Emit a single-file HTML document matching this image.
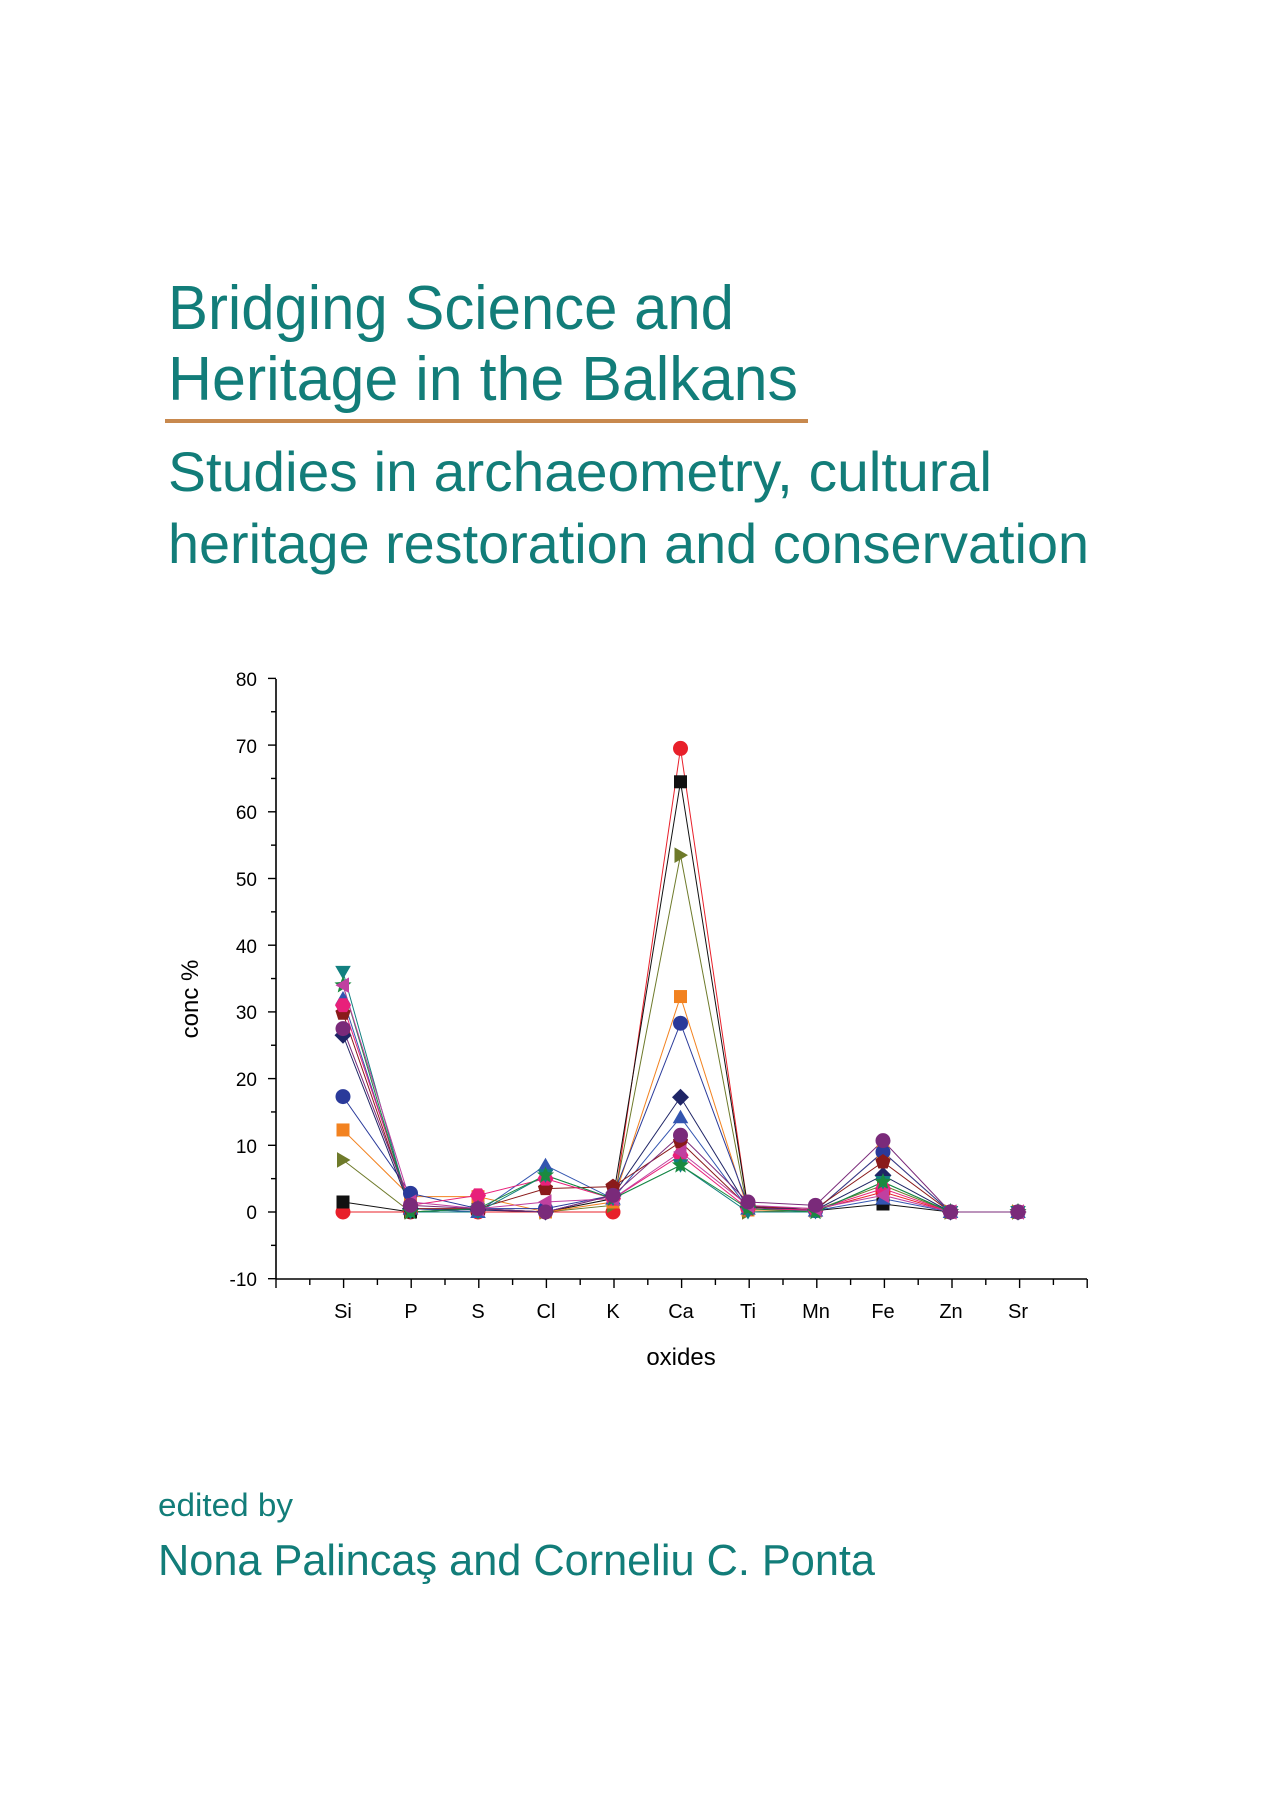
<!DOCTYPE html>
<html><head><meta charset="utf-8"><style>
html,body{margin:0;padding:0;background:#fff}
svg{display:block}
</style></head><body>
<svg id="s" width="1270" height="1800" viewBox="0 0 1270 1800" xmlns="http://www.w3.org/2000/svg" font-family="Liberation Sans, sans-serif">
<rect width="1270" height="1800" fill="#fff"/>
<g fill="#127d79">
<text x="168" y="329" font-size="62" textLength="566" lengthAdjust="spacingAndGlyphs">Bridging Science and</text>
<text x="168" y="400" font-size="62" textLength="630" lengthAdjust="spacingAndGlyphs">Heritage in the Balkans</text>
<text x="168" y="491" font-size="56" textLength="824" lengthAdjust="spacingAndGlyphs">Studies in archaeometry, cultural</text>
<text x="168" y="563" font-size="56" textLength="921" lengthAdjust="spacingAndGlyphs">heritage restoration and conservation</text>
<text x="158" y="1516" font-size="32" textLength="135" lengthAdjust="spacingAndGlyphs">edited by</text>
<text x="158" y="1575" font-size="44" textLength="717" lengthAdjust="spacingAndGlyphs">Nona Palincaş and Corneliu C. Ponta</text>
</g>
<rect x="165" y="419" width="643" height="4" fill="#c8894e"/>
<g stroke="#000" stroke-width="1.6" fill="none">
<line x1="276" y1="679" x2="276" y2="1279"/>
<line x1="276" y1="1279" x2="1087" y2="1279"/>
</g>
<g id="ticks" stroke="#000" stroke-width="1.4"></g>
<g font-size="19" fill="#000" text-anchor="end">
<text x="257" y="686">80</text><text x="257" y="753">70</text><text x="257" y="819">60</text>
<text x="257" y="886">50</text><text x="257" y="953">40</text><text x="257" y="1019">30</text>
<text x="257" y="1086">20</text><text x="257" y="1153">10</text><text x="257" y="1219">0</text>
<text x="257" y="1286">-10</text>
</g>
<g font-size="20" fill="#000" text-anchor="middle">
<text x="343" y="1318">Si</text><text x="411" y="1318">P</text><text x="478" y="1318">S</text>
<text x="546" y="1318">Cl</text><text x="613" y="1318">K</text><text x="681" y="1318">Ca</text>
<text x="748" y="1318">Ti</text><text x="816" y="1318">Mn</text><text x="883" y="1318">Fe</text>
<text x="951" y="1318">Zn</text><text x="1018" y="1318">Sr</text>
<text x="681" y="1365" font-size="24">oxides</text>
<text transform="translate(198,999) rotate(-90)" font-size="24">conc %</text>
</g>
<g id="series"></g>
</svg>
<script>
var NS="http://www.w3.org/2000/svg";
function el(t,a,p){var e=document.createElementNS(NS,t);for(var k in a)e.setAttribute(k,a[k]);p.appendChild(e);return e;}
function X(i){return 343+67.5*i;}
function Y(v){return 1212-6.67*v;}
var tk=document.getElementById('ticks');
for(var v=-10;v<=80;v+=5){var y=Y(v);el('line',{x1:v%10==0?268:271,y1:y,x2:276,y2:y},tk);}
for(var j=0;j<=24;j++){var x=276+33.8*j;el('line',{x1:x,y1:1279,x2:x,y2:j%2==0?1288:1285},tk);}
var S=[
['#e8202a','circle',[0,0,0,0,0,69.5,0.5,0.3,3,0,0]],
['#111','square',[1.5,0,0.5,0,2,64.5,0.5,0.2,1.2,0,0]],
['#6e7a2a','rtri',[7.8,0,0.5,0,1,53.5,0,0.3,4,0,0]],
['#f28220','square',[12.3,2.3,2.3,0,1.5,32.3,0.3,0.2,9,0,0]],
['#2a3a9a','circle',[17.3,2.8,0.5,0.5,2.5,28.3,1,0.2,9,0,0]],
['#1f2566','diamond',[26.5,0.5,0.3,0,2.5,17.2,0.7,0.3,5.5,0,0]],
['#3355b0','tri',[32,0.5,0,7,2,14.2,0.5,0.2,2,0,0]],
['#8a1a1a','pent',[29.8,0.5,0.5,3.5,3.8,10.5,0.8,0.5,7.5,0,0]],
['#e8207a','hex',[31,1,2.5,5,2,8.5,0.5,0.3,3.5,0,0]],
['#128080','dtri',[36,0,0,5.5,2,7,0,0,4.5,0,0]],
['#1a8a40','star',[34,0,0.5,5.5,2,7,0.5,0,4.5,0,0]],
['#c040a0','ltri',[34,1.5,0.5,1.5,2,9,1,0.5,2.5,0,0]],
['#7a2a7a','circle',[27.5,1,0.5,0,2.5,11.5,1.5,1,10.7,0,0]]
];
var g=document.getElementById('series');
S.forEach(function(s){var pts=s[2].map(function(v,i){return X(i)+','+Y(v)}).join(' ');
el('polyline',{points:pts,fill:'none',stroke:s[0],'stroke-width':1},g);});
function poly(n,r,rot,cx,cy){var p=[];for(var i=0;i<n;i++){var a=rot+i*2*Math.PI/n;p.push((cx+r*Math.cos(a))+','+(cy+r*Math.sin(a)));}return p.join(' ');}
S.forEach(function(s){s[2].forEach(function(v,i){var cx=X(i),cy=Y(v),c=s[0],r=7.5;var sh=s[1];
if(sh=='circle')el('circle',{cx:cx,cy:cy,r:r,fill:c},g);
else if(sh=='square')el('rect',{x:cx-6.5,y:cy-6.5,width:13,height:13,fill:c},g);
else if(sh=='diamond')el('polygon',{points:poly(4,8.5,-Math.PI/2,cx,cy),fill:c},g);
else if(sh=='tri')el('polygon',{points:poly(3,9,-Math.PI/2,cx,cy+1.5),fill:c},g);
else if(sh=='dtri')el('polygon',{points:poly(3,9,Math.PI/2,cx,cy-1.5),fill:c},g);
else if(sh=='rtri')el('polygon',{points:poly(3,9,0,cx-1.5,cy),fill:c},g);
else if(sh=='ltri')el('polygon',{points:poly(3,9,Math.PI,cx+1.5,cy),fill:c},g);
else if(sh=='pent')el('polygon',{points:poly(5,8,-Math.PI/2,cx,cy),fill:c},g);
else if(sh=='hex')el('polygon',{points:poly(6,8,0,cx,cy),fill:c},g);
else if(sh=='star'){var p=[];for(var k=0;k<10;k++){var a=-Math.PI/2+k*Math.PI/5,rr=k%2?4:9;p.push((cx+rr*Math.cos(a))+','+(cy+rr*Math.sin(a)));}el('polygon',{points:p.join(' '),fill:c},g);}
});});
</script>
</body></html>
